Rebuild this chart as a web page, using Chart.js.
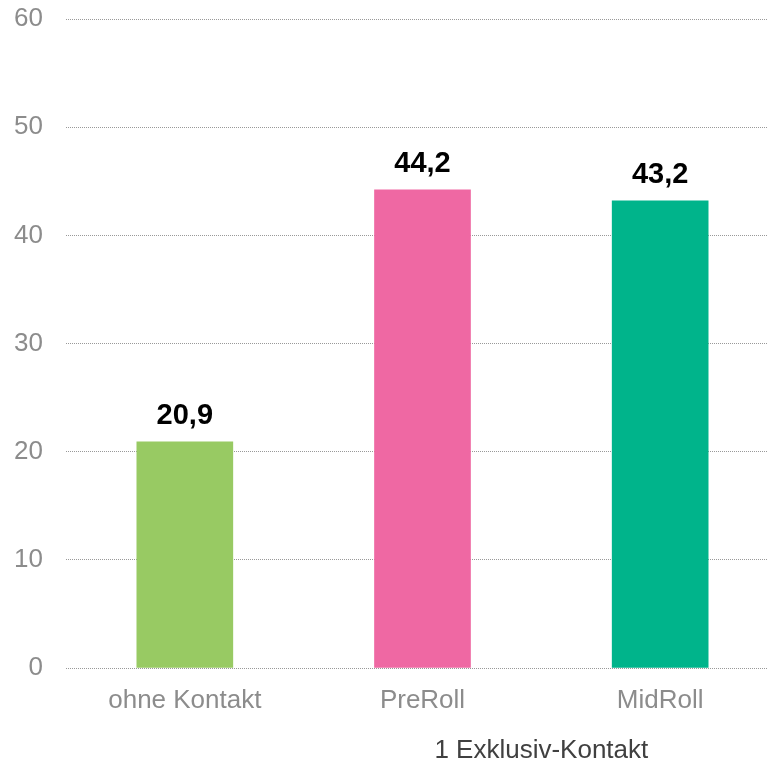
<!DOCTYPE html>
<html>
<head>
<meta charset="utf-8">
<script src="https://cdn.jsdelivr.net/npm/chart.js@4"></script>
<style>
  html, body { margin: 0; padding: 0; background: #fff; overflow: hidden; }
  #wrap { width: 779px; height: 763px; }
</style>
</head>
<body>
<div id="wrap"><canvas id="c" width="779" height="763"></canvas></div>
<script>
// Categories, values and colours of the bars
const categories = ["ohne Kontakt", "PreRoll", "MidRoll"];
const values = [20.9, 44.2, 43.2];
const barColors = ["#98CA63", "#EF68A3", "#00B48B"];
const yTicks = [0, 10, 20, 30, 40, 50, 60];
// Group caption under the two ad-contact bars
const groupLabel = "1 Exklusiv-Kontakt";
const groupSpan = ["PreRoll", "MidRoll"];

const FONT = "'Liberation Sans', Arial, Helvetica, sans-serif";

const fmt = v => v.toFixed(1).replace(".", ",");

// Value labels above each bar
const valueLabels = {
  id: "valueLabels",
  afterDatasetsDraw(chart) {
    const ctx = chart.ctx;
    const meta = chart.getDatasetMeta(0);
    ctx.save();
    ctx.font = "bold 29px " + FONT;
    ctx.fillStyle = "#000";
    ctx.textAlign = "center";
    ctx.textBaseline = "alphabetic";
    meta.data.forEach((bar, i) => {
      ctx.fillText(fmt(values[i]), bar.x, bar.y - 18);
    });
    ctx.restore();
  }
};

// Caption centred beneath a range of categories
const groupCaption = {
  id: "groupCaption",
  afterDraw(chart) {
    const x = chart.scales.x;
    const a = x.getPixelForValue(categories.indexOf(groupSpan[0]));
    const b = x.getPixelForValue(categories.indexOf(groupSpan[1]));
    const ctx = chart.ctx;
    ctx.save();
    ctx.font = "26px " + FONT;
    ctx.fillStyle = "#404040";
    ctx.textAlign = "center";
    ctx.textBaseline = "middle";
    ctx.fillText(groupLabel, (a + b) / 2, chart.chartArea.bottom + 83);
    ctx.restore();
  }
};

new Chart(document.getElementById("c"), {
  type: "bar",
  data: {
    labels: categories,
    datasets: [{
      data: values,
      backgroundColor: barColors,
      borderWidth: 0,
      barThickness: 96
    }]
  },
  options: {
    responsive: false,
    animation: false,
    layout: { padding: { top: 19, right: 0, bottom: 0, left: 0 } },
    plugins: { legend: { display: false }, tooltip: { enabled: false } },
    scales: {
      x: {
        grid: { display: false, drawTicks: false },
        border: { display: false },
        ticks: { color: "#8c8c8c", font: { family: FONT, size: 26 }, padding: 17, maxRotation: 0 },
        afterFit(s) { s.height = 95; }
      },
      y: {
        min: 0,
        max: 60,
        afterBuildTicks(s) { s.ticks = yTicks.map(v => ({ value: v })); },
        grid: { color: "#999999", lineWidth: 1, drawTicks: false },
        border: { display: false, dash: [1, 1] },
        ticks: { color: "#8c8c8c", font: { family: FONT, size: 26 }, padding: 23 },
        afterFit(s) { s.width = 66; s.paddingTop = 0; s.paddingBottom = 0; }
      }
    }
  },
  plugins: [valueLabels, groupCaption]
});
</script>
</body>
</html>
